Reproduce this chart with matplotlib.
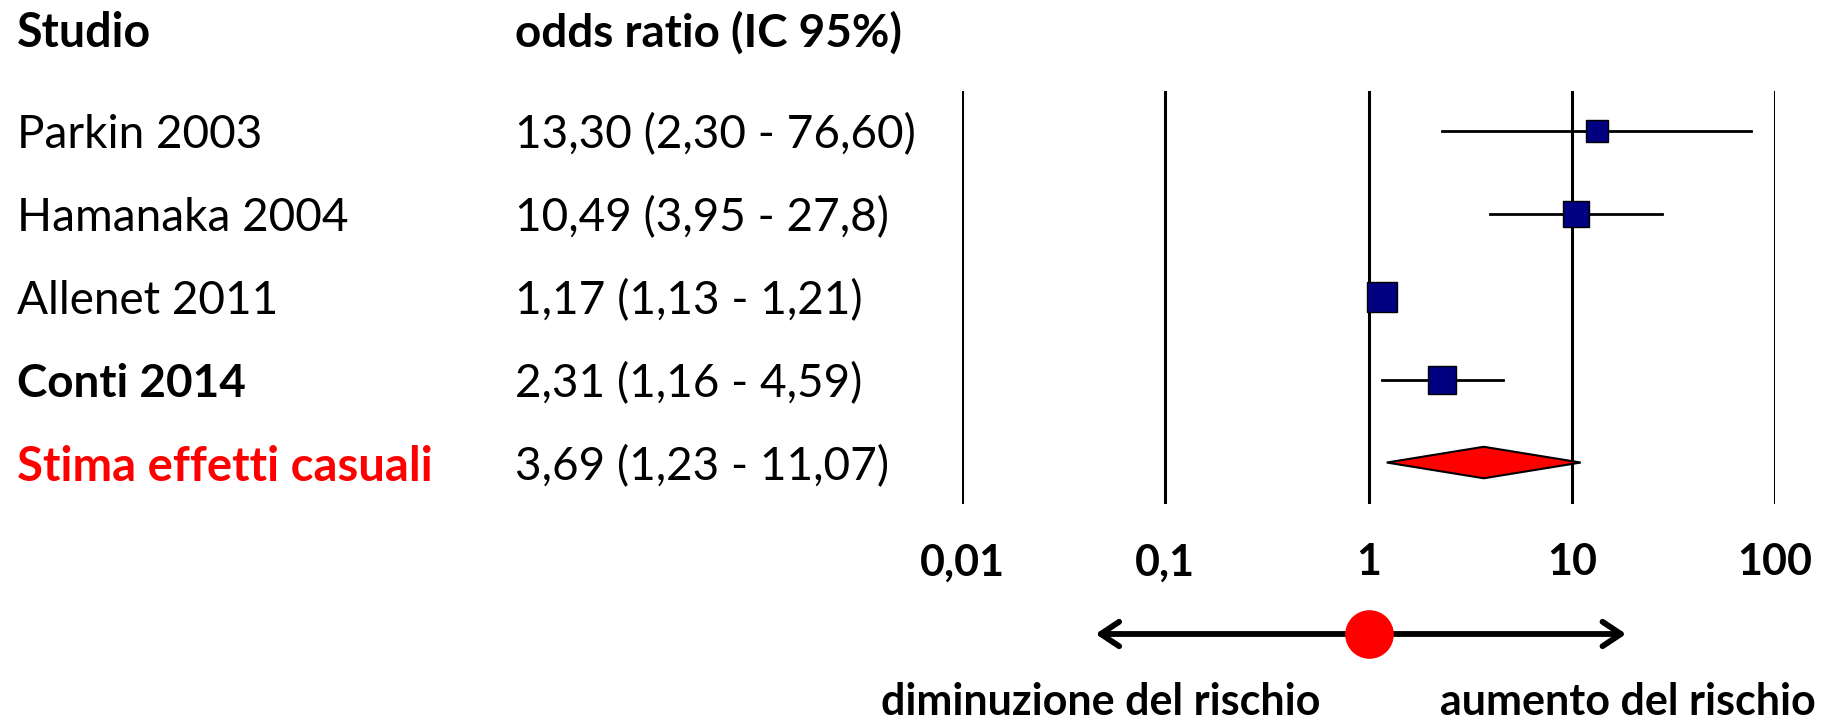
import matplotlib
matplotlib.use('Agg')
from matplotlib import pyplot as plt
from matplotlib.transforms import blended_transform_factory

plt.rcParams['font.family'] = ['Lato', 'DejaVu Sans']

# data
studies = ['Parkin 2003', 'Hamanaka 2004', 'Allenet 2011', 'Conti 2014']
odds = [13.30, 10.49, 1.17, 2.31]
ci_low = [2.30, 3.95, 1.13, 1.16]
ci_high = [76.60, 27.8, 1.21, 4.59]
ci_text = ['13,30 (2,30 - 76,60)', '10,49 (3,95 - 27,8)',
           '1,17 (1,13 - 1,21)', '2,31 (1,16 - 4,59)']
marker_sizes = [16, 19, 21, 19.5]

pooled_label = 'Stima effetti casuali'
pooled_or = 3.69
pooled_low = 1.23
pooled_high = 11.07
pooled_text = '3,69 (1,23 - 11,07)'

ticks = [0.01, 0.1, 1, 10, 100]
tick_labels = ['0,01', '0,1', '1', '10', '100']

W, H = 1830, 720
fig = plt.figure(figsize=(W / 100, H / 100), dpi=100)

# forest plot axes: x from 0.01 to 100 on log scale
ax = fig.add_axes([962 / W, (H - 504) / H, (1775 - 962) / W, 413 / H])
ax.set_xscale('log')
ax.set_xlim(0.01, 100)
ax.set_ylim(4.5, -0.48)
for s in ax.spines.values():
    s.set_visible(False)
ax.set_yticks([])
ax.minorticks_off()
ax.set_xticks(ticks)
ax.set_xticklabels(tick_labels, fontsize=31, fontweight='bold')
ax.tick_params(axis='x', length=0, pad=27.5)

for t in ticks:
    ax.axvline(t, color='black', lw=2.2, zorder=1)

rows = list(range(len(studies)))
for i in rows:
    ax.plot([ci_low[i], ci_high[i]], [i, i], color='black', lw=2, zorder=2)
    ax.plot(odds[i], i, marker='s', ms=marker_sizes[i], color='#000080',
            mec='black', mew=1, zorder=3)

# pooled diamond
yp = len(studies)
h = 0.19
ax.fill([pooled_low, pooled_or, pooled_high, pooled_or],
        [yp, yp - h, yp, yp + h], facecolor='red', edgecolor='black',
        lw=1.5, zorder=3)

# text columns (nudged down a bit so the glyphs sit on the row)
tr = blended_transform_factory(fig.transFigure, ax.transData)
dy = 0.05
for i in rows:
    weight = 'bold' if studies[i] == 'Conti 2014' else 'normal'
    ax.text(17 / W, i + dy, studies[i], transform=tr, fontsize=33,
            fontweight=weight, va='center', ha='left')
    ax.text(515 / W, i + dy, ci_text[i], transform=tr, fontsize=33,
            va='center', ha='left')
ax.text(17 / W, yp + dy, pooled_label, transform=tr, fontsize=34,
        fontweight='bold', color='red', va='center', ha='left')
ax.text(515 / W, yp + dy, pooled_text, transform=tr, fontsize=33,
        va='center', ha='left')

fig.text(17 / W, 1 - 33 / H, 'Studio', fontsize=33.5, fontweight='bold',
         va='center', ha='left')
fig.text(515 / W, 1 - 33 / H, 'odds ratio (IC 95%)', fontsize=33,
         fontweight='bold', va='center', ha='left')

# risk arrow below the axis
xt = ax.get_xaxis_transform()
ay = -(634 - 504) / 413
ax.annotate('', xy=(0.044, ay), xytext=(19.1, ay), xycoords=xt,
            textcoords=xt,
            arrowprops=dict(arrowstyle='<->, head_length=0.6, head_width=0.4',
                            lw=4.2, color='black', mutation_scale=22,
                            capstyle='round', joinstyle='round'))
ax.plot([1], [ay], 'o', ms=34, color='red', transform=xt, clip_on=False,
        zorder=5)

fig.text(1101 / W, 1 - 702 / H, 'diminuzione del rischio', fontsize=31,
         fontweight='bold', ha='center', va='center')
fig.text(1628 / W, 1 - 702 / H, 'aumento del rischio', fontsize=31,
         fontweight='bold', ha='center', va='center')

fig.savefig('out.png', dpi=100)
